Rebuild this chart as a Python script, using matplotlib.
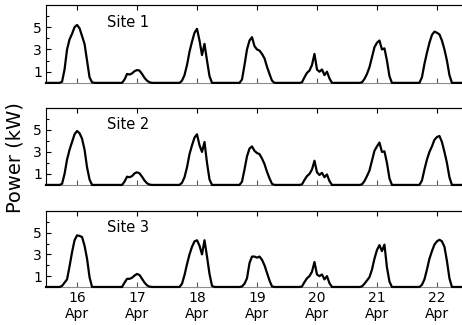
import numpy as np
import pandas as pd
import matplotlib
matplotlib.use("Agg")
import matplotlib.pyplot as plt
import matplotlib.dates as mdates


# ------------------------------------------------------------
# Data: hourly power (kW), hours relative to each day's tick
# ------------------------------------------------------------
DAYS = ["2014-04-16", "2014-04-17", "2014-04-18", "2014-04-19",
        "2014-04-20", "2014-04-21", "2014-04-22"]
HOURS = list(range(-7, 8))

site1 = [
    [0, 0.1, 1.2, 3.0, 3.9, 4.4, 5.0, 5.2, 4.9, 4.2, 3.5, 2.0, 0.5, 0.05, 0],
    [0, 0, 0.3, 0.8, 0.75, 0.85, 1.05, 1.15, 1.1, 0.8, 0.45, 0.2, 0.05, 0, 0],
    [0, 0.2, 0.7, 1.6, 2.8, 3.7, 4.5, 4.85, 3.8, 2.5, 3.5, 2.0, 0.6, 0, 0],
    [0, 0.3, 1.6, 3.0, 3.8, 4.1, 3.3, 3.0, 2.9, 2.6, 2.2, 1.45, 0.8, 0.2, 0],
    [0, 0.05, 0.5, 0.9, 1.1, 1.6, 2.6, 1.2, 1.0, 1.2, 0.7, 1.0, 0.4, 0, 0],
    [0, 0.05, 0.35, 0.8, 1.4, 2.3, 3.2, 3.6, 3.8, 3.0, 3.1, 2.0, 0.6, 0, 0],
    [0, 0.5, 1.7, 2.7, 3.6, 4.3, 4.6, 4.5, 4.35, 3.8, 3.0, 2.0, 0.7, 0, 0],
]
site2 = [
    [0, 0.1, 1.0, 2.3, 3.2, 3.9, 4.6, 4.9, 4.7, 4.2, 3.2, 1.6, 0.5, 0, 0],
    [0, 0, 0.3, 0.75, 0.7, 0.8, 1.05, 1.15, 1.05, 0.75, 0.4, 0.15, 0.03, 0, 0],
    [0, 0.2, 0.7, 1.6, 2.8, 3.6, 4.3, 4.6, 3.6, 3.0, 3.9, 2.0, 0.5, 0, 0],
    [0, 0.3, 1.4, 2.6, 3.3, 3.5, 3.1, 2.9, 2.8, 2.4, 1.9, 1.2, 0.6, 0.1, 0],
    [0, 0.05, 0.45, 0.8, 1.0, 1.4, 2.2, 1.15, 0.9, 1.1, 0.7, 0.95, 0.35, 0, 0],
    [0, 0.05, 0.35, 0.8, 1.3, 2.2, 3.1, 3.5, 3.85, 3.0, 3.05, 2.0, 0.6, 0, 0],
    [0, 0.4, 1.4, 2.3, 3.0, 3.5, 4.1, 4.35, 4.45, 3.9, 3.0, 2.0, 0.7, 0, 0],
]
site3 = [
    [0, 0.1, 0.4, 0.7, 1.9, 3.2, 4.3, 4.75, 4.7, 4.6, 3.8, 2.6, 0.9, 0, 0],
    [0, 0, 0.4, 0.75, 0.75, 0.85, 1.05, 1.2, 1.1, 0.75, 0.4, 0.15, 0.03, 0, 0],
    [0, 0.3, 1.1, 2.1, 3.0, 3.7, 4.2, 4.3, 3.8, 3.0, 4.3, 2.8, 1.2, 0.1, 0],
    [0, 0.05, 0.3, 0.8, 2.2, 2.8, 2.8, 2.7, 2.8, 2.5, 2.0, 1.3, 0.6, 0.05, 0],
    [0, 0.05, 0.45, 0.8, 1.0, 1.4, 2.3, 1.15, 1.0, 1.15, 0.7, 1.0, 0.35, 0, 0],
    [0, 0.05, 0.3, 0.6, 0.9, 1.6, 2.6, 3.4, 3.85, 3.3, 3.9, 1.8, 0.5, 0, 0],
    [0, 0.2, 0.7, 1.6, 2.6, 3.3, 3.9, 4.2, 4.35, 4.2, 3.7, 2.4, 0.8, 0, 0],
]
SITES = ["Site 1", "Site 2", "Site 3"]
Y_MAJOR = [1, 3, 5]
Y_MINOR = [2, 4, 6]

# x range shown (left edge ~ half a day before first tick)
x_left = pd.Timestamp("2014-04-15 11:35")
x_right = pd.Timestamp("2014-04-22 15:30")


def build_series(profiles):
    t, v = [x_left], [0.0]
    for day, prof in zip(DAYS, profiles):
        for h, p in zip(HOURS, prof):
            t.append(pd.Timestamp(day) + pd.Timedelta(hours=h))
            v.append(p)
    t.append(x_right)
    v.append(0.0)
    return mdates.date2num(t), np.array(v)


fig = plt.figure(figsize=(4.62, 3.25), dpi=100)

# axes boxes (left, bottom, width, height) in figure fraction
boxes = [
    [0.0996, 0.745, 0.93, 0.240],
    [0.0996, 0.431, 0.93, 0.237],
    [0.0996, 0.117, 0.93, 0.234],
]

for i, (name, data) in enumerate(zip(SITES, [site1, site2, site3])):
    ax = fig.add_axes(boxes[i])
    t, v = build_series(data)
    ax.plot(t, v, color="black", lw=1.6, zorder=3, clip_on=False)

    ax.set_xlim(mdates.date2num(x_left), mdates.date2num(x_right))
    ax.set_ylim(0, 7)

    ax.set_yticks(Y_MAJOR)
    ax.set_yticks(Y_MINOR, minor=True)
    ax.tick_params(axis="y", which="both", direction="in", right=False,
                   labelsize=10, pad=3)
    ax.tick_params(axis="y", which="major", length=3.5, width=0.8)
    ax.tick_params(axis="y", which="minor", length=2, width=0.8)

    ax.xaxis.set_major_locator(mdates.DayLocator())
    ax.xaxis.set_major_formatter(mdates.DateFormatter("%d\n%b"))
    ax.tick_params(axis="x", direction="in", top=False, length=3.5,
                   width=0.8, color="#555555", labelsize=10, pad=3,
                   labelbottom=(i == 2))

    # black ticks along the top edge
    sec = ax.secondary_xaxis("top")
    sec.xaxis.set_major_locator(mdates.DayLocator())
    sec.tick_params(axis="x", direction="in", length=3.5, width=0.8,
                    color="black", labeltop=False)
    sec.spines["top"].set_linewidth(0.8)

    ax.spines["bottom"].set_color("#8c8c8c")
    ax.spines["right"].set_visible(False)
    for s in ["top", "left", "bottom"]:
        ax.spines[s].set_linewidth(0.8)

    ax.text(0.19, 0.78, name, transform=ax.transAxes, fontsize=10.5,
            ha="center", va="center")

fig.text(0.033, 0.515, "Power (kW)", rotation=90, fontsize=14,
         ha="center", va="center")

fig.savefig("out.png", dpi=100)
plt.close(fig)
